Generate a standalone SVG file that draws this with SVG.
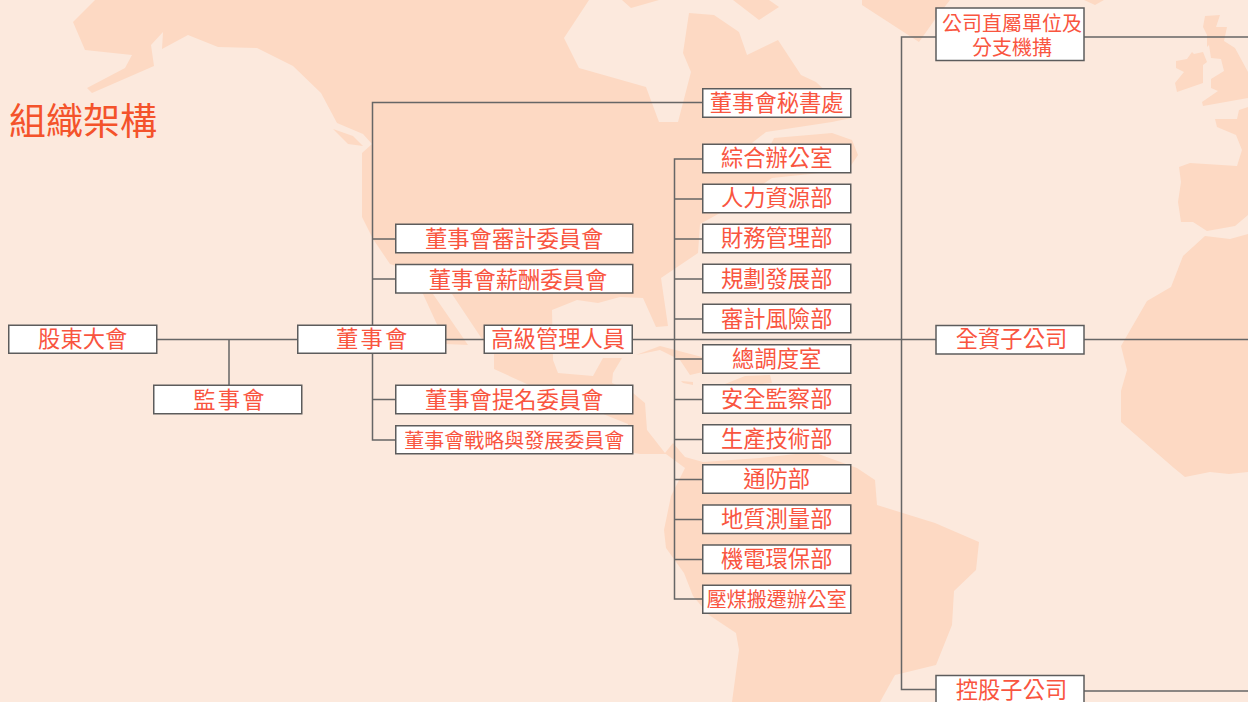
<svg xmlns="http://www.w3.org/2000/svg" width="1248" height="702" viewBox="0 0 1248 702">
<style>
.land{fill:#fdd9c3;stroke:none}
.box{fill:#fff;stroke:#5c5c5c;stroke-width:1.5}
.t{font-family:"Noto Sans CJK TC","Noto Sans CJK SC",sans-serif;font-size:22.3px;font-weight:400;fill:#f9553f;text-anchor:middle}
.s{font-size:20px}
.w{letter-spacing:2.2px}
.title{font-family:"Noto Sans CJK TC","Noto Sans CJK SC",sans-serif;font-size:37px;font-weight:400;fill:#f4532b}
#connectors path{fill:none;stroke:#666;stroke-width:1.5}
</style>
<rect width="1248" height="702" fill="#fce9dd"/>
<g id="map">
<polygon class="land" points="95,0 73,22 85,50 132,55 125,68 87,88 92,93 154,66 151,45 163,32 162,49 188,35 218,47 257,48 293,66 321,93 337,123 363,134 372,144 362,153 362,217 373,239 390,264 396,266 423,294 446,344 468,345 433,294 452,294 484,342 494,354 494,369 540,390 603,414 628,424 628,452 640,454 666,454 685,468 671,496 664,530 666,548 684,573 693,596 709,615 736,633 739,650 732,702 880,702 895,675 936,665 952,625 954,591 976,570 979,542 935,523 877,505 875,480 857,468 813,452 760,458 703,462 685,457 673,443 665,453 647,430 645,403 633,393 612,383 613,373 622,358 603,358 593,376 558,373 553,360 552,310 577,300 598,303 620,297 643,298 656,327 668,326 661,278 698,253 700,224 720,213 772,178 848,170 858,155 852,140 832,133 774,138 770,146 752,143 766,132 832,122 851,118 832,97 816,82 801,75 778,40 747,55 739,32 714,15 689,13 683,53 691,72 678,122 659,122 646,87 579,68 564,38 589,0"/>
<polygon class="land" points="333,129 353,136 363,146 348,144"/>
<polygon class="land" points="622,0 631,8 659,0"/>
<polygon class="land" points="733,0 759,20 779,7 769,0"/>
<polygon class="land" points="862,0 862,5 919,42 936,18 950,0"/>
<polygon class="land" points="1084,0 1095,5 1104,0"/>
<polygon class="land" points="636,355 660,346 702,357 703,372 690,375 680,360 660,350"/>
<polygon class="land" points="681,381 693,382 693,385 683,383"/>
<polygon class="land" points="725,384 745,376 770,375 772,383 745,386"/>
<polygon class="land" points="1205,16 1220,15 1216,27 1227,27 1224,41 1235,48 1248,72 1248,98 1203,106 1202,102 1218,91 1211,88 1211,79 1224,71 1221,59 1211,58 1209,45 1207,47 1207,35 1203,27"/>
<polygon class="land" points="1176,61 1187,59 1192,52 1194,54 1203,52 1207,62 1203,65 1203,83 1177,92 1175,83 1184,72 1176,68"/>
<polygon class="land" points="1215,119 1237,119 1239,110 1248,107 1248,215 1235,226 1207,231 1193,222 1181,222 1178,202 1181,182 1179,167 1190,163 1237,166 1242,150 1236,135 1217,127"/>
<polygon class="land" points="1205,236 1183,256 1171,287 1147,301 1121,346 1127,370 1121,391 1121,422 1174,468 1185,477 1210,472 1229,474 1248,472 1248,234 1230,239"/>
</g>
<g id="connectors">
<path d="M157 339.500H298M229 339.500V385"/>
<path d="M372.500 325V102.500H703M372.500 239H396M372.500 279H396M372.500 353V440H396M372.500 399.500H396"/>
<path d="M446 339.500H484M632 339.500H936"/>
<path d="M703 159H674.500V599H703M674.500 199H703M674.500 239H703M674.500 279H703M674.500 319H703M674.500 359H703M674.500 399.500H703M674.500 439.500H703M674.500 479.500H703M674.500 519.500H703M674.500 559.500H703"/>
<path d="M936 37H901.500V689.500H936"/>
<path d="M1084 37H1248M1084 339.500H1248M1084 691H1248"/>
</g>
<text class="title" x="9" y="135">組織架構</text>
<g id="n-gudong"><rect class="box" x="8.750" y="325.250" width="148" height="28"/><text class="t" x="82.700" y="347">股東大會</text></g>
<g id="n-jianshi"><rect class="box" x="153.750" y="385.250" width="148" height="28.500"/><text class="t w" x="230" y="408">監事會</text></g>
<g id="n-dongshi"><rect class="box" x="297.750" y="325.250" width="148" height="28"/><text class="t w" x="372.700" y="347">董事會</text></g>
<g id="n-gaoji"><rect class="box" x="484.250" y="325.250" width="148" height="28"/><text class="t" x="558.200" y="347">高級管理人員</text></g>
<g id="n-shenji"><rect class="box" x="395.750" y="224.250" width="237" height="28.500"/><text class="t" x="514.200" y="247">董事會審計委員會</text></g>
<g id="n-xinchou"><rect class="box" x="395.750" y="264.500" width="237" height="28.500"/><text class="t" x="518" y="288">董事會薪酬委員會</text></g>
<g id="n-timing"><rect class="box" x="395.750" y="385.250" width="237" height="28.500"/><text class="t" x="514.200" y="408">董事會提名委員會</text></g>
<g id="n-zhanlue"><rect class="box" x="395.750" y="425.750" width="237" height="28"/><text class="t s" x="514.200" y="448">董事會戰略與發展委員會</text></g>
<g id="n-mishu"><rect class="box" x="702.750" y="88.750" width="148" height="28.500"/><text class="t" x="776.700" y="111">董事會秘書處</text></g>
<g id="n-zonghe"><rect class="box" x="702.750" y="144.250" width="148" height="28.500"/><text class="t" x="776.700" y="166">綜合辦公室</text></g>
<g id="n-renli"><rect class="box" x="702.750" y="184.250" width="148" height="28.500"/><text class="t" x="776.700" y="206">人力資源部</text></g>
<g id="n-caiwu"><rect class="box" x="702.750" y="224.250" width="148" height="28.500"/><text class="t" x="776.700" y="246">財務管理部</text></g>
<g id="n-guihua"><rect class="box" x="702.750" y="264.250" width="148" height="28.500"/><text class="t" x="776.700" y="287">規劃發展部</text></g>
<g id="n-fengxian"><rect class="box" x="702.750" y="304.250" width="148" height="28.500"/><text class="t" x="776.700" y="327">審計風險部</text></g>
<g id="n-zongdiao"><rect class="box" x="702.750" y="344.750" width="148" height="28.500"/><text class="t" x="776.700" y="367">總調度室</text></g>
<g id="n-anquan"><rect class="box" x="702.750" y="384.750" width="148" height="28.500"/><text class="t" x="776.700" y="407">安全監察部</text></g>
<g id="n-shengchan"><rect class="box" x="702.750" y="424.750" width="148" height="28.500"/><text class="t" x="776.700" y="447">生產技術部</text></g>
<g id="n-tongfang"><rect class="box" x="702.750" y="464.750" width="148" height="28.500"/><text class="t" x="776.700" y="487">通防部</text></g>
<g id="n-dizhi"><rect class="box" x="702.750" y="505" width="148" height="28.500"/><text class="t" x="776.700" y="527">地質測量部</text></g>
<g id="n-jidian"><rect class="box" x="702.750" y="545" width="148" height="28.500"/><text class="t" x="776.700" y="567">機電環保部</text></g>
<g id="n-yamei"><rect class="box" x="702.750" y="585.250" width="148" height="28"/><text class="t s" x="776.700" y="607">壓煤搬遷辦公室</text></g>
<g id="n-zhishu"><rect class="box" x="936" y="8" width="148" height="52.500"/><text class="t s"><tspan x="1012" y="30.500">公司直屬單位及</tspan><tspan x="1012" y="54.500">分支機搆</tspan></text></g>
<g id="n-quanzi"><rect class="box" x="936" y="325.500" width="148" height="28.500"/><text class="t" x="1011.500" y="347">全資子公司</text></g>
<g id="n-konggu"><rect class="box" x="936" y="675.500" width="148" height="40"/><text class="t" x="1011.500" y="698">控股子公司</text></g>
</svg>
